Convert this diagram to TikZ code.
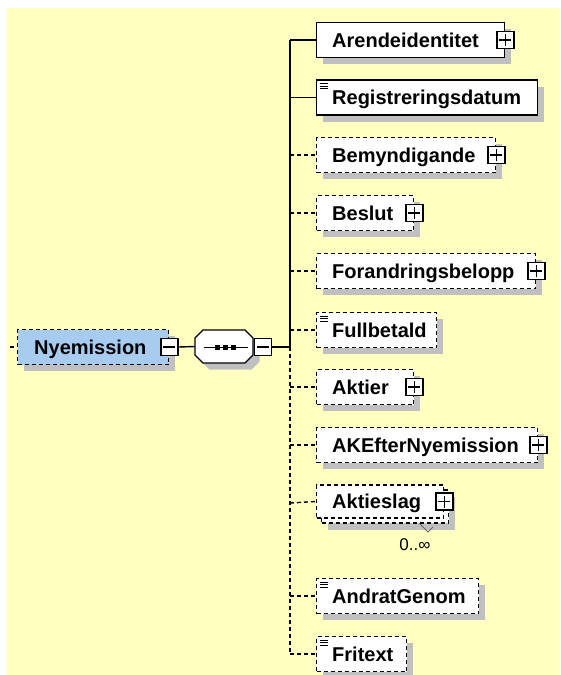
\documentclass[tikz,border=0pt]{standalone}
\usepackage{fontspec}
\setmainfont{Liberation Sans}
\usetikzlibrary{shadows}
\definecolor{bgyellow}{RGB}{255,255,194}
\definecolor{shadowgray}{RGB}{192,192,192}
\definecolor{elemblue}{RGB}{168,204,240}
\tikzset{
  elembox/.style={draw, line width=1.4pt, fill=white, rectangle, minimum height=35pt, inner sep=0pt, anchor=west,
    drop shadow={shadow xshift=6.5pt, shadow yshift=-6.5pt, opacity=1, fill=shadowgray}},
  optional/.style={dash pattern=on 4pt off 3pt},
  lbl/.style={anchor=base west, inner sep=0pt, font=\fontsize{20}{24}\selectfont\bfseries},
  pmbox/.style={draw, solid, line width=1.4pt, fill=white, minimum size=17pt, inner sep=0pt},
  plusbox/.style={pmbox, path picture={
    \draw[solid, line width=1.3pt] ([xshift=-6pt]path picture bounding box.center) -- ([xshift=6pt]path picture bounding box.center);
    \draw[solid, line width=1.3pt] ([yshift=-6pt]path picture bounding box.center) -- ([yshift=6pt]path picture bounding box.center);}},
  minusbox/.style={pmbox, path picture={
    \draw[solid, line width=1.3pt] ([xshift=-6pt]path picture bounding box.center) -- ([xshift=6pt]path picture bounding box.center);}},
  simpleicon/.style={path picture={
    \foreach \dy in {3.5,6,8.5}{\draw[solid, line width=0.9pt] ([xshift=3pt,yshift=-\dy pt]path picture bounding box.north west) -- ++(8pt,0pt);}}},
  conn/.style={line width=1.4pt},
}
\begin{document}
\begin{tikzpicture}[x=1pt,y=-1pt]
\useasboundingbox (0,0) rectangle (560,675);
\fill[white] (0,0) rectangle (560,675);
\fill[bgyellow] (7,8) rectangle (560,675);

% trunk
\coordinate (tTop) at (290,40);
\coordinate (tMid) at (290,347);
\coordinate (tBot) at (290,654);
\draw[conn] (tTop) -- (tMid);
\draw[conn, optional] (tMid) -- (tBot);

% parent element
\coordinate (parentIn) at (10,347);
\node[elembox, optional, fill=elemblue, minimum width=151pt] (ny) at (17,347) {};
\node[lbl] (nyT) at (34,354) {Nyemission};
\node[minusbox] (nyMinus) at (ny.east) {};
\draw[conn, optional] (parentIn) -- (ny.west);

% sequence compositor
\node[minimum width=58pt, minimum height=33pt, inner sep=0pt] (seq) at (224,346.5) {};
\fill[shadowgray, shift={(6.5,6.5)}] (195,338) -- (203,330) -- (245,330) -- (253,338) -- (253,355) -- (245,363) -- (203,363) -- (195,355) -- cycle;
\draw[line width=1.4pt, fill=white] (195,338) -- (203,330) -- (245,330) -- (253,338) -- (253,355) -- (245,363) -- (203,363) -- (195,355) -- cycle;
\draw[line width=1.4pt] (204,347.5) -- (248,347.5);
\foreach \cx in {217.5,225.5,233.5}{\fill (\cx-2.5,345) rectangle (\cx+2.5,350);}
\node[minusbox] (seqMinus) at (263,347) {};
\draw[conn] (nyMinus.east) -- (seq.west);
\draw[conn] (seqMinus.east) -- (tMid);

% children
\coordinate (j1) at (290,40);
\node[elembox, minimum width=188pt] (arend) at (316,40) {};
\node[lbl] (arendT) at (332,47) {Arendeidentitet};
\node[plusbox] (arendP) at (arend.east) {};
\draw[conn] (j1) -- (arend.west);

\coordinate (j2) at (290,97.5);
\node[elembox, simpleicon, minimum width=221pt] (regdat) at (316,97.5) {};
\node[lbl] (regdatT) at (332,104.5) {Registreringsdatum};
\draw[conn] (j2) -- (regdat.west);

\coordinate (j3) at (290,155);
\node[elembox, optional, minimum width=179pt] (bemyn) at (316,155) {};
\node[lbl] (bemynT) at (332,162) {Bemyndigande};
\node[plusbox] (bemynP) at (bemyn.east) {};
\draw[conn, optional] (j3) -- (bemyn.west);

\coordinate (j4) at (290,213);
\node[elembox, optional, minimum width=97pt] (beslut) at (316,213) {};
\node[lbl] (beslutT) at (332,220) {Beslut};
\node[plusbox] (beslutP) at (beslut.east) {};
\draw[conn, optional] (j4) -- (beslut.west);

\coordinate (j5) at (290,271);
\node[elembox, optional, minimum width=219pt] (forand) at (316,271) {};
\node[lbl] (forandT) at (332,278) {Forandringsbelopp};
\node[plusbox] (forandP) at (forand.east) {};
\draw[conn, optional] (j5) -- (forand.west);

\coordinate (j6) at (290,330);
\node[elembox, optional, simpleicon, minimum width=120pt] (fullb) at (316,330) {};
\node[lbl] (fullbT) at (332,337) {Fullbetald};
\draw[conn, optional] (j6) -- (fullb.west);

\coordinate (j7) at (290,387);
\node[elembox, optional, minimum width=97pt] (aktier) at (316,387) {};
\node[lbl] (aktierT) at (332,394) {Aktier};
\node[plusbox] (aktierP) at (aktier.east) {};
\draw[conn, optional] (j7) -- (aktier.west);

\coordinate (j8) at (290,445);
\node[elembox, optional, minimum width=221pt] (akefter) at (316,445) {};
\node[lbl] (akefterT) at (332,452) {AKEfterNyemission};
\node[plusbox] (akefterP) at (akefter.east) {};
\draw[conn, optional] (j8) -- (akefter.west);

\coordinate (j9) at (290,503);
\node[elembox, optional, minimum width=127pt, minimum height=33pt] (aktieslagB) at (321,506.5) {};
\node[draw, line width=1.4pt, optional, fill=white, minimum width=127pt, minimum height=33pt, inner sep=0pt, anchor=west] (aktieslag) at (316,501.5) {};
\node[lbl] (aktieslagT) at (332,508.5) {Aktieslag};
\node[plusbox] (aktieslagP) at (aktieslag.east) {};
\draw[conn, optional] (j9) -- (aktieslag.west);
\draw[line width=0.8pt, black!60] (419,523) -- (428,532) -- (433,527);
\node[inner sep=0pt, font=\fontsize{17}{20}\selectfont] (mult) at (415,545) {0..∞};

\coordinate (j10) at (290,596);
\node[elembox, optional, simpleicon, minimum width=162pt] (andrat) at (316,596) {};
\node[lbl] (andratT) at (332,603) {AndratGenom};
\draw[conn, optional] (j10) -- (andrat.west);

\coordinate (j11) at (290,654);
\node[elembox, optional, simpleicon, minimum width=90pt] (fritext) at (316,654) {};
\node[lbl] (fritextT) at (332,661) {Fritext};
\draw[conn, optional] (j11) -- (fritext.west);
\end{tikzpicture}
\end{document}
